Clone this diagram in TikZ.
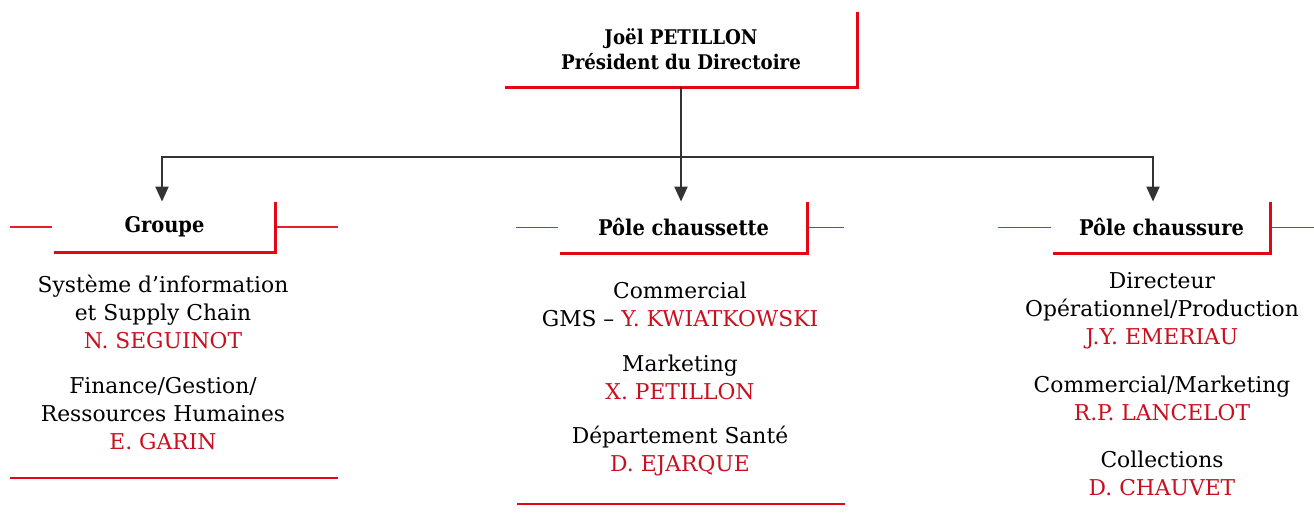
\documentclass[tikz,border=0pt]{standalone}
\usepackage{fontspec}
\setmainfont{DejaVu Serif}
\newfontfamily\headfont{DejaVu Serif Condensed}
\usetikzlibrary{arrows.meta}
\definecolor{lnred}{HTML}{E30613}
\definecolor{txred}{HTML}{C8101E}
\definecolor{conn}{HTML}{333333}
\newcommand{\who}[1]{\textcolor{txred}{#1}}

\begin{document}
\begin{tikzpicture}[x=0.5pt, y=-0.5pt, >={Triangle[width=6.5pt,length=7.5pt]}]
    \tikzstyle{head}=[inner sep=0pt, align=center, font=\headfont\bfseries\fontsize{10.8}{12.5}\selectfont]
    \tikzstyle{body}=[align=center, font=\fontsize{10.9}{14}\selectfont]
    \tikzstyle{frame}=[draw=lnred, line width=1.5pt]
    \tikzstyle{side}=[draw=lnred!90, line width=0.75pt]
    \tikzstyle{foot}=[draw=lnred, line width=0.8pt]
    \tikzstyle{link}=[draw=conn, line width=1pt, ->]

    \useasboundingbox (0,0) rectangle (1314,513);

    \node[head, font=\headfont\bfseries\fontsize{10.1}{12.5}\selectfont, minimum width=176pt, minimum height=37.5pt] (boss) at (681,49.5) {Joël PETILLON\\Président du Directoire};
    \node[head, minimum width=110.5pt, minimum height=25pt] (grp) at (164.5,227) {Groupe};
    \node[head, minimum width=123.5pt, minimum height=25.5pt] (sock) at (683.5,227.5) {Pôle chaussette};
    \node[head, minimum width=108.5pt, minimum height=25.5pt] (shoe) at (1161.5,227.5) {Pôle chaussure};

    \draw[frame] (boss.south west) -- (boss.south east) -- (boss.north east);
    \draw[frame] (grp.south west) -- (grp.south east) -- (grp.north east);
    \draw[frame] (sock.south west) -- (sock.south east) -- (sock.north east);
    \draw[frame] (shoe.south west) -- (shoe.south east) -- (shoe.north east);

    \draw[side] ([xshift=-1pt]grp.west) -- ++(-42,0);
    \draw[side] ([xshift=1pt]grp.east) -- ++(61,0);
    \draw[side] ([xshift=-1pt]sock.west) -- ++(-42,0);
    \draw[side] ([xshift=1pt]sock.east) -- ++(35,0);
    \draw[side] ([xshift=-1pt]shoe.west) -- ++(-53,0);
    \draw[side] ([xshift=1pt]shoe.east) -- ++(42,0);

    \coordinate (bus) at (681,157);
    \draw[draw=conn, line width=1pt] (boss.south) -- (bus);
    \draw[link] (bus) -| ([xshift=-1.25pt]grp.north);
    \draw[link] (bus) -- (bus |- sock.north);
    \draw[link] (bus) -| ([xshift=-4.25pt]shoe.north);

    \node[body] (si) at (163,312) {Système d’information\\et Supply Chain\\\who{N. SEGUINOT}};
    \node[body] (fin) at (163,414) {Finance/Gestion/\\Ressources Humaines\\\who{E. GARIN}};
    \node[body] (com) at (680,304) {Commercial\\GMS – \who{Y. KWIATKOWSKI}};
    \node[body] (mkt) at (680,377) {Marketing\\\who{X. PETILLON}};
    \node[body] (sante) at (680,451) {Département Santé\\\who{D. EJARQUE}};
    \node[body] (dir) at (1162,310.5) {Directeur\\Opérationnel/Production\\\who{J.Y. EMERIAU}};
    \node[body] (cm) at (1162,398) {Commercial/Marketing\\\who{R.P. LANCELOT}};
    \node[body] (col) at (1162,473) {Collections\\\who{D. CHAUVET}};

    \draw[foot] (10,478) -- (338,478);
    \draw[foot] (517,504) -- (845,504);
\end{tikzpicture}
\end{document}
